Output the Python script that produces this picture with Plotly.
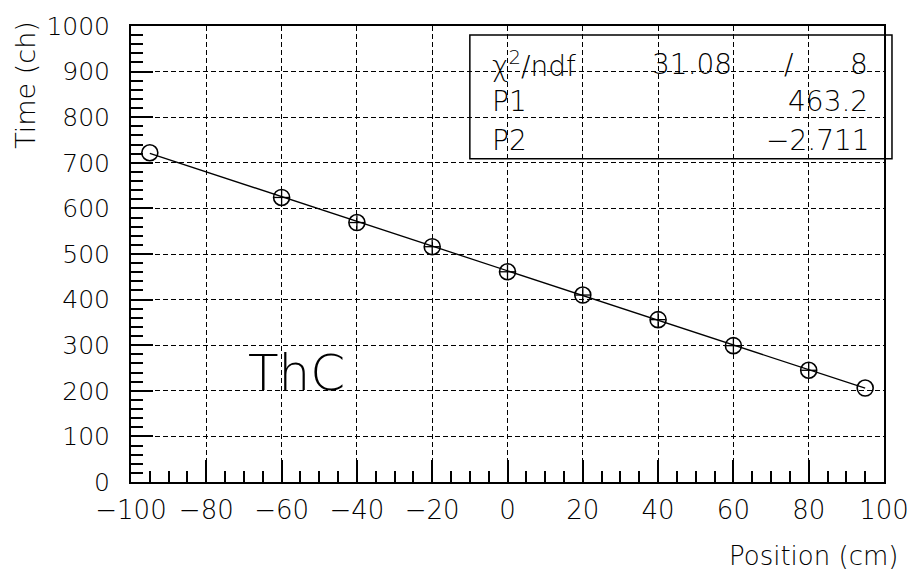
import plotly.graph_objects as go

# Measured time vs. position along the bar
position_cm = [-95, -60, -40, -20, 0, 20, 40, 60, 80, 95]
time_ch = [722, 624, 569, 516, 461, 410, 356, 299, 245, 206]
time_err = [0, 16, 16, 16, 16, 16, 16, 16, 16, 0]
pos_err = [0, 2, 2, 2, 2, 2, 2, 2, 2, 0]

# Linear fit result: time = P1 + P2 * position
p1 = 463.2
p2 = -2.711
chi2 = 31.08
ndf = 8

x_ticks = [-100, -80, -60, -40, -20, 0, 20, 40, 60, 80, 100]
y_ticks = [0, 100, 200, 300, 400, 500, 600, 700, 800, 900, 1000]

FONT = "DejaVu Sans"
INK = "#000000"

fit_x = [min(position_cm), max(position_cm)]
fit_y = [p1 + p2 * v for v in fit_x]

fig = go.Figure()
fig.add_trace(go.Scatter(
    x=fit_x, y=fit_y, mode="lines",
    line=dict(color=INK, width=1.3), hoverinfo="skip", showlegend=False,
))
fig.add_trace(go.Scatter(
    x=position_cm, y=time_ch, mode="markers",
    marker=dict(symbol="circle-open", size=16, color=INK, line=dict(width=1.6)),
    error_y=dict(type="data", array=time_err, visible=True, width=0, thickness=1.3, color=INK),
    error_x=dict(type="data", array=pos_err, visible=True, width=0, thickness=1.3, color=INK),
    showlegend=False,
))

axis_common = dict(
    showline=True, linecolor=INK, linewidth=2, mirror=True,
    ticks="inside", tickcolor=INK, tickwidth=1.5,
    showgrid=True, gridcolor=INK, gridwidth=1.3, griddash="5px,3px",
    zeroline=False,
)

fig.update_xaxes(
    range=[-100, 100], tickvals=x_ticks, ticklen=22,
    minor=dict(dtick=5, ticks="inside", ticklen=11, tickcolor=INK, tickwidth=1.5, showgrid=False),
    ticklabelstandoff=4,
    tickfont=dict(family=FONT, size=26, color=INK, weight=200),
    **axis_common,
)
fig.update_yaxes(
    range=[0, 1000], tickvals=y_ticks, ticklen=22,
    minor=dict(dtick=20, ticks="inside", ticklen=12, tickcolor=INK, tickwidth=1.5, showgrid=False),
    ticklabelstandoff=14,
    tickfont=dict(family=FONT, size=25, color=INK, weight=200),
    **axis_common,
)

txt = dict(family=FONT, size=28, color=INK, weight=200)
annotations = [
    # axis titles
    dict(text="Time (ch)", x=-0.14, y=0.87, xref="paper", yref="paper", textangle=-90,
         showarrow=False, xanchor="center", yanchor="middle",
         font=dict(family=FONT, size=27, color=INK, weight=200)),
    dict(text="Position (cm)", x=1.021, y=-0.163, xref="paper", yref="paper",
         showarrow=False, xanchor="right", yanchor="middle",
         font=dict(family=FONT, size=26, color=INK, weight=200)),
    # label inside the frame
    dict(text="ThC", x=-56, y=240, xref="x", yref="y", showarrow=False,
         xanchor="center", yanchor="middle",
         font=dict(family=FONT, size=50, color=INK, weight=200)),
    # fit statistics box
    dict(text="χ<sup>2</sup>/ndf", x=0.477, y=0.915, xref="paper", yref="paper",
         showarrow=False, xanchor="left", yanchor="middle", font=txt),
    dict(text=f"{chi2:.2f}", x=0.801, y=0.915, xref="paper", yref="paper",
         showarrow=False, xanchor="right", yanchor="middle", font=txt),
    dict(text="/", x=0.873, y=0.915, xref="paper", yref="paper",
         showarrow=False, xanchor="center", yanchor="middle", font=txt),
    dict(text=f"{ndf}", x=0.982, y=0.915, xref="paper", yref="paper",
         showarrow=False, xanchor="right", yanchor="middle", font=txt),
    dict(text="P1", x=0.477, y=0.835, xref="paper", yref="paper",
         showarrow=False, xanchor="left", yanchor="middle", font=txt),
    dict(text=f"{p1:.1f}", x=0.982, y=0.835, xref="paper", yref="paper",
         showarrow=False, xanchor="right", yanchor="middle", font=txt),
    dict(text="P2", x=0.477, y=0.748, xref="paper", yref="paper",
         showarrow=False, xanchor="left", yanchor="middle", font=txt),
    dict(text=f"{p2:.3f}".replace("-", "\u2212"), x=0.984, y=0.748, xref="paper", yref="paper",
         showarrow=False, xanchor="right", yanchor="middle", font=txt),
]

fig.update_layout(
    width=921, height=585,
    margin=dict(l=131, r=32, t=21, b=103),
    paper_bgcolor="white", plot_bgcolor="white",
    annotations=annotations,
    shapes=[dict(type="rect", xref="paper", yref="paper",
                 x0=0.45, x1=1.0106, y0=0.709, y1=0.980,
                 line=dict(color=INK, width=1.5), fillcolor="rgba(0,0,0,0)")],
)

fig.write_html("out.html")
